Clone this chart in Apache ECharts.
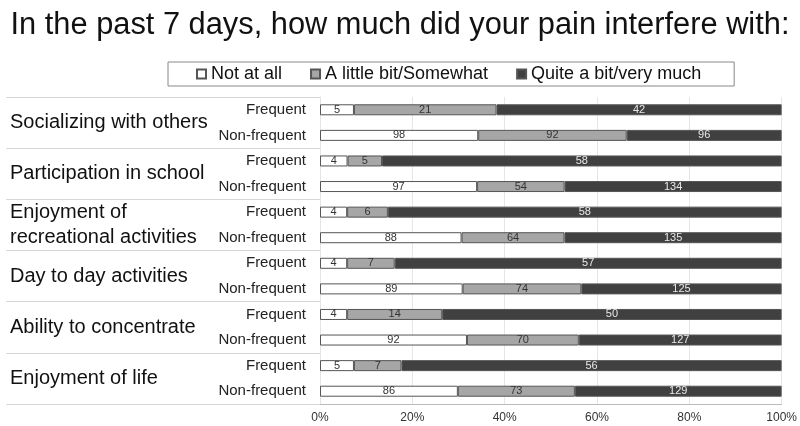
<!DOCTYPE html>
<html>
<head>
<meta charset="utf-8">
<script src="https://cdn.jsdelivr.net/npm/echarts@6/dist/echarts.min.js"></script>
<style>
  html, body { margin: 0; padding: 0; background: #fff; }
  #main { width: 800px; height: 426px; }
</style>
</head>
<body>
<div id="main"></div>
<script>
// groups of questions, two rows each
const groups = ['Socializing with others', 'Participation in school', 'Enjoyment of\nrecreational activities',
  'Day to day activities', 'Ability to concentrate', 'Enjoyment of life'];
const rows = ['Frequent', 'Non-frequent', 'Frequent', 'Non-frequent', 'Frequent', 'Non-frequent',
  'Frequent', 'Non-frequent', 'Frequent', 'Non-frequent', 'Frequent', 'Non-frequent'];
const seriesNames = ['Not at all', 'A little bit/Somewhat', 'Quite a bit/very much'];
const notAtAll = [5, 98, 4, 97, 4, 88, 4, 89, 4, 92, 5, 86];
const littleBit = [21, 92, 5, 54, 6, 64, 7, 74, 14, 70, 7, 73];
const quiteABit = [42, 96, 58, 134, 58, 135, 57, 125, 50, 127, 56, 129];
const xTicks = [0, 20, 40, 60, 80, 100];

const counts = [notAtAll, littleBit, quiteABit];
const totals = rows.map((r, i) => notAtAll[i] + littleBit[i] + quiteABit[i]);
const colors = ['#ffffff', '#a6a6a6', '#404040'];
const labelColors = ['#333', '#333', '#e8e8e8'];

let chart = echarts.init(document.getElementById('main'));
let option = {
  animation: false,
  title: {
    text: 'In the past 7 days, how much did your pain interfere with:',
    left: 'center',
    top: 5,
    textStyle: {
      fontFamily: "'Liberation Sans Narrow', 'Liberation Sans', Arial",
      fontSize: 30.8,
      fontWeight: 'normal',
      color: '#111'
    }
  },
  legend: {
    data: seriesNames,
    left: 168,
    top: 62,
    padding: [3, 33, 3, 28],
    borderColor: '#888',
    borderWidth: 1,
    itemWidth: 9,
    itemHeight: 9,
    itemGap: 28,
    icon: 'rect',
    textStyle: { fontFamily: "'Liberation Sans', Arial", fontSize: 18, color: '#111' }
  },
  grid: { left: 320, right: 18, top: 97, bottom: 22 },
  xAxis: {
    type: 'value',
    min: 0,
    max: 100,
    interval: 20,
    axisLine: { show: true, lineStyle: { color: '#bbb' } },
    axisTick: { show: false },
    splitLine: { show: true, lineStyle: { color: '#e6e6e6' } },
    axisLabel: {
      fontFamily: "'Liberation Sans', Arial",
      fontSize: 12,
      color: '#333',
      margin: 8,
      formatter: v => xTicks.includes(v) ? v + '%' : ''
    }
  },
  yAxis: [
    {
      type: 'category',
      data: rows,
      inverse: true,
      position: 'left',
      axisLine: { show: true, lineStyle: { color: '#e4e4e4' } },
      axisTick: { show: false },
      axisLabel: {
        fontFamily: "'Liberation Sans', Arial",
        fontSize: 15,
        color: '#222',
        margin: 14
      }
    },
    {
      type: 'category',
      data: groups,
      inverse: true,
      position: 'left',
      axisLine: { show: false },
      axisTick: { show: true, length: 314, lineStyle: { color: '#d6d6d6' } },
      axisLabel: {
        align: 'left',
        margin: 310,
        fontFamily: "'Liberation Sans', Arial",
        fontSize: 20,
        lineHeight: 25,
        color: '#111'
      }
    }
  ],
  series: counts.map((arr, k) => ({
    name: seriesNames[k],
    type: 'bar',
    stack: 'total',
    yAxisIndex: 0,
    barWidth: 11,
    data: arr.map((v, i) => v / totals[i] * 100),
    itemStyle: { color: colors[k], borderColor: '#555', borderWidth: 1 },
    label: {
      show: true,
      position: 'inside',
      fontFamily: "'Liberation Sans', Arial",
      fontSize: 11,
      color: labelColors[k],
      formatter: p => String(arr[p.dataIndex])
    }
  }))
};
chart.setOption(option);
</script>
</body>
</html>
